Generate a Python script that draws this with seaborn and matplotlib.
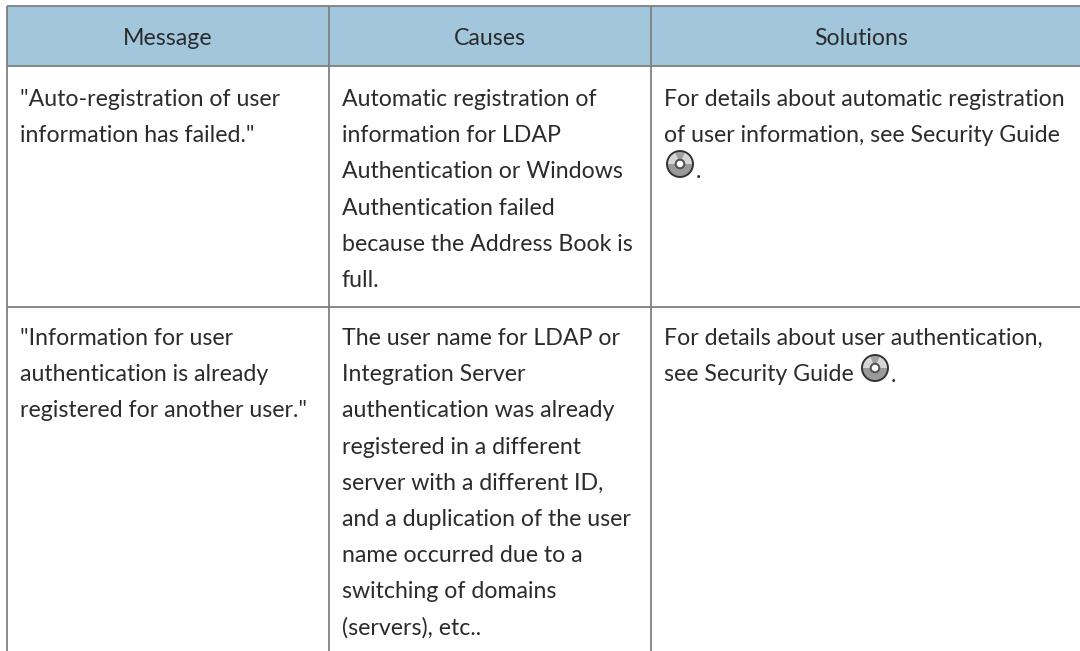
import matplotlib.pyplot as plt
from matplotlib.patches import Circle, Wedge, Rectangle
import seaborn as sns

# table content
headers = ["Message", "Causes", "Solutions"]
col_messages = [
    ['"Auto-registration of user', 'information has failed."'],
    ['"Information for user', 'authentication is already', 'registered for another user."'],
]
col_causes = [
    ["Automatic registration of", "information for LDAP", "Authentication or Windows",
     "Authentication failed", "because the Address Book is", "full."],
    ["The user name for LDAP or", "Integration Server", "authentication was already",
     "registered in a different", "server with a different ID,", "and a duplication of the user",
     "name occurred due to a", "switching of domains", "(servers), etc.."],
]
col_solutions = [
    ["For details about automatic registration", "of user information, see Security Guide"],
    ["For details about user authentication,", "see Security Guide"],
]

# layout in pixels
W, H = 1080, 651
col_x = [7, 329, 651, 1081]
top, head_bottom, row_bottom = 6, 66, 307
line_h = 36.2
first_base = [106, 345]
text_pad = 13
fs = 16.65

sns.set_theme(style="white")
plt.rcParams['font.family'] = ['Lato', 'DejaVu Sans']
ink = "#2b2b2b"
rule = "#808080"

fig = plt.figure(figsize=(W / 100, H / 100), dpi=100)
ax = fig.add_axes([0, 0, 1, 1])
ax.set_xlim(0, W)
ax.set_ylim(H, 0)
ax.axis("off")

ax.add_patch(Rectangle((col_x[0], top), col_x[3] - col_x[0], head_bottom - top,
                       facecolor="#a2c7dc", edgecolor="none"))

# rules
for x in col_x[:3]:
    ax.plot([x, x], [top, H], color=rule, lw=1.3, solid_capstyle="butt")
for y in [top, head_bottom, row_bottom]:
    ax.plot([col_x[0], col_x[3]], [y, y], color=rule, lw=1.3, solid_capstyle="butt")

for i, h in enumerate(headers):
    ax.text((col_x[i] + [329, 651, 1072][i]) / 2, 45, h, ha="center", va="baseline",
            fontsize=fs, color=ink)


def cd_icon(cx, cy, r=13):
    # little disc symbol used for "see the manual"
    # y axis is flipped, so 0-180 is the lower half on screen
    ax.add_patch(Circle((cx, cy), r, facecolor="#d6d6d6", edgecolor="none"))
    ax.add_patch(Wedge((cx, cy), r, 0, 180, facecolor="#9a9a9a", edgecolor="none"))
    ax.add_patch(Wedge((cx, cy), r, 248, 292, facecolor="#a0a0a0", edgecolor="none"))
    ax.add_patch(Circle((cx, cy), r, facecolor="none", edgecolor="#333333", lw=1.4))
    ax.add_patch(Circle((cx, cy), 4.3, facecolor="white", edgecolor="#555555", lw=1.5))


for r in range(2):
    for c, col in enumerate([col_messages, col_causes, col_solutions]):
        for k, line in enumerate(col[r]):
            ax.text(col_x[c] + text_pad, first_base[r] + k * line_h, line,
                    ha="left", va="baseline", fontsize=fs, color=ink)

# disc symbols with the trailing full stop
cd_icon(680, 164)
ax.text(696, 178, ".", fontsize=fs, color=ink, va="baseline")
cd_icon(875, 368)
ax.text(891, 382, ".", fontsize=fs, color=ink, va="baseline")

plt.savefig("out.png", dpi=100)
